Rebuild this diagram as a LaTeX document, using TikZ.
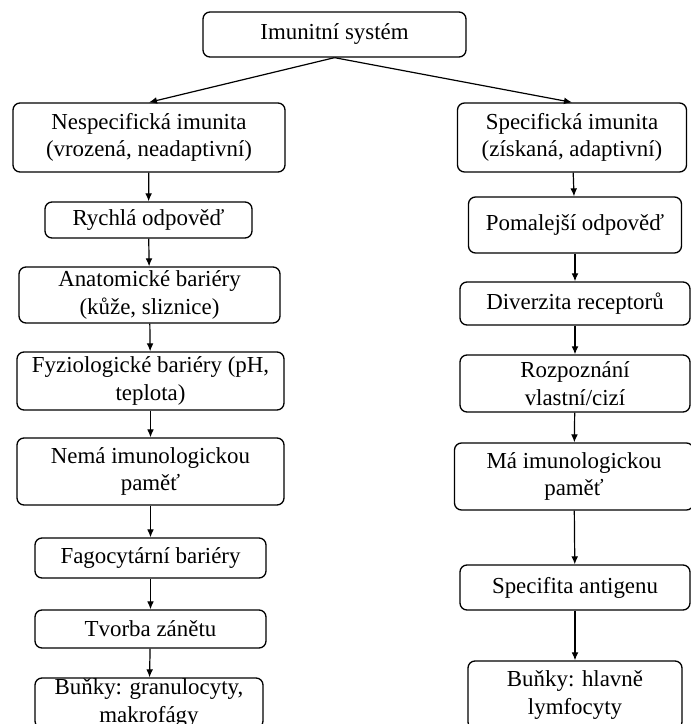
\documentclass[tikz,border=0pt]{standalone}
\usepackage{fontspec}
\setmainfont{Liberation Serif}
\usetikzlibrary{arrows.meta}

\begin{document}
\begin{tikzpicture}[x=.5pt, y=-.5pt,
    box/.style={draw, line width=.65pt, rounded corners=3.5pt, align=center, inner sep=0pt,
        font=\fontsize{11.45}{13.8}\selectfont},
    arr/.style={-{Latex[length=4pt,width=3.4pt]}, line width=.6pt}]
    \useasboundingbox (0,0) rectangle (691,724);
    \node[box, minimum width=131.5pt, minimum height=22.5pt] (sys) at (334.5,34.5) {Imunitní systém};
    % nespecificka
    \node[box, minimum width=136pt, minimum height=34.5pt] (nesp) at (149,137.5) {Nespecifická imunita\\(vrozená, neadaptivní)};
    \node[box, minimum width=103.5pt, minimum height=18pt] (rychla) at (148.5,220) {Rychlá odpověď};
    \node[box, minimum width=130.5pt, minimum height=28pt] (anat) at (149.5,295) {Anatomické bariéry\\(kůže, sliznice)};
    \node[box, minimum width=133.5pt, minimum height=29pt] (fyzio) at (150.5,381) {Fyziologické bariéry (pH,\\teplota)};
    \node[box, minimum width=133.5pt, minimum height=33.5pt] (nema) at (150.5,471.5) {Nemá imunologickou\\paměť};
    \node[box, minimum width=115.5pt, minimum height=20pt] (fago) at (150.5,558) {Fagocytární bariéry};
    \node[box, minimum width=115.5pt, minimum height=19pt] (zanet) at (150.5,629) {Tvorba zánětu};
    \node[box, minimum width=114pt, minimum height=25pt] (granul) at (149,703) {Buňky: granulocyty,\\makrofágy};
    % specificka
    \node[box, minimum width=114.5pt, minimum height=34.5pt] (spec) at (572,137.5) {Specifická imunita\\(získaná, adaptivní)};
    \node[box, minimum width=106.5pt, minimum height=28pt] (pomal) at (575,225) {Pomalejší odpověď};
    \node[box, minimum width=115pt, minimum height=21.5pt] (diverz) at (575,303.5) {Diverzita receptorů};
    \node[box, minimum width=115pt, minimum height=28.5pt] (rozpoz) at (575,383.5) {Rozpoznání\\vlastní/cizí};
    \node[box, minimum width=119.5pt, minimum height=33.5pt] (pamet) at (574,476.5) {Má imunologickou\\paměť};
    \node[box, minimum width=115pt, minimum height=22.5pt] (antig) at (575,587.5) {Specifita antigenu};
    \node[box, minimum width=107pt, minimum height=34pt] (lymfo) at (575,695) {Buňky: hlavně\\lymfocyty};

    \draw[arr] (sys.south) -- (nesp.north);
    \draw[arr] (sys.south) -- (spec.north);
    \draw[arr] (nesp) -- (rychla);
    \draw[arr] (rychla) -- (anat);
    \draw[arr] (anat) -- (fyzio);
    \draw[arr] (fyzio) -- (nema);
    \draw[arr] (nema) -- (fago);
    \draw[arr] (fago) -- (zanet);
    \draw[arr] (zanet) -- (granul);
    \draw[arr] (spec) -- (pomal);
    \draw[arr] (pomal) -- (diverz);
    \draw[arr] (diverz) -- (rozpoz);
    \draw[arr] (rozpoz) -- (pamet);
    \draw[arr] (pamet) -- (antig);
    \draw[arr] (antig) -- (lymfo);
\end{tikzpicture}
\end{document}
